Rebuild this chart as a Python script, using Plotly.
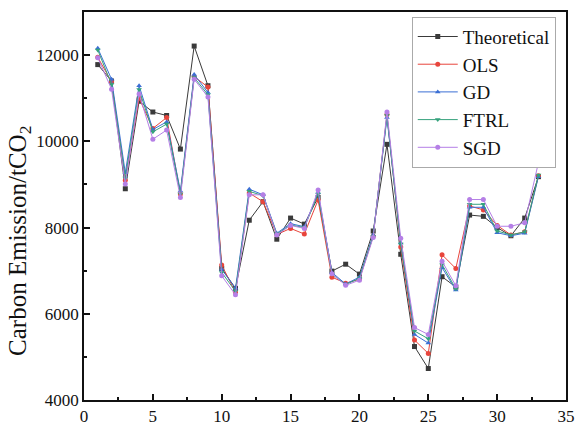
import plotly.graph_objects as go

x = list(range(1, 34))
theoretical = [11780, 11400, 8900, 10930, 10680, 10600, 9820, 12210, 11290, 7050, 6590,
               8170, 8600, 7730, 8220, 8080, 8700, 6990, 7150, 6920, 7920, 9930, 7380,
               5240, 4730, 6860, 6620, 8290, 8260, 8000, 7810, 8220, 9180]
ols = [11950, 11380, 9100, 11000, 10300, 10550, 8780, 11500, 11260, 7130, 6500,
       8800, 8600, 7840, 7980, 7850, 8640, 6850, 6710, 6800, 7800, 10620, 7550,
       5390, 5080, 7370, 7050, 8500, 8410, 8050, 7830, 7900, 9200]
gd = [12160, 11440, 9270, 11290, 10275, 10450, 8850, 11550, 11130, 7030, 6590,
      8890, 8760, 7870, 8090, 8020, 8810, 6960, 6690, 6850, 7830, 10550, 7640,
      5520, 5320, 7070, 6550, 8470, 8470, 7880, 7810, 7870, 9180]
ftrl = [12120, 11320, 9150, 11200, 10220, 10400, 8780, 11480, 11080, 6960, 6520,
        8840, 8740, 7850, 8060, 8000, 8780, 6920, 6680, 6820, 7800, 10600, 7620,
        5600, 5420, 7140, 6580, 8540, 8540, 7920, 7830, 7900, 9220]
sgd = [11940, 11210, 9010, 11100, 10050, 10260, 8700, 11440, 11030, 6880, 6440,
       8760, 8760, 7830, 8050, 7980, 8870, 6930, 6660, 6780, 7770, 10680, 7750,
       5680, 5520, 7220, 6650, 8650, 8650, 8030, 8030, 8110, 9510]

series = [
    ("Theoretical", theoretical, "#3a3a3a", "square"),
    ("OLS", ols, "#e8453c", "circle"),
    ("GD", gd, "#3b6fd4", "triangle-up"),
    ("FTRL", ftrl, "#35a27c", "triangle-down"),
    ("SGD", sgd, "#b57fe6", "circle"),
]

fig = go.Figure()
for name, ys, color, sym in series:
    fig.add_trace(go.Scatter(
        x=x, y=ys, name=name, mode="lines+markers",
        line=dict(color=color, width=1),
        marker=dict(color=color, symbol=sym, size=5),
    ))

font = "Liberation Serif, Times New Roman, serif"
fig.update_layout(
    width=585, height=436,
    margin=dict(l=84, r=10, t=12, b=28),
    paper_bgcolor="white", plot_bgcolor="white",
    font=dict(family=font, size=17, color="#111"),
    showlegend=True,
    legend=dict(
        x=0.68, y=0.988, xanchor="left", yanchor="top",
        bordercolor="#aaa", borderwidth=1, bgcolor="white",
        font=dict(family=font, size=19, color="#111"),
        tracegroupgap=0, itemwidth=40,
    ),
    xaxis=dict(
        range=[0, 35], dtick=5, tick0=0,
        showline=True, linecolor="#111", linewidth=1.5, mirror=True,
        ticks="inside", ticklen=6, tickcolor="#111", tickwidth=1.5,
        minor=dict(dtick=2.5, ticks="inside", ticklen=3, tickcolor="#111"),
        showgrid=False, zeroline=False,
        tickfont=dict(family=font, size=17),
    ),
    yaxis=dict(
        range=[4000, 13000], dtick=2000, tick0=4000,
        showline=True, linecolor="#111", linewidth=1.5, mirror=True,
        ticks="inside", ticklen=6, tickcolor="#111", tickwidth=1.5,
        minor=dict(dtick=1000, ticks="inside", ticklen=3, tickcolor="#111"),
        showgrid=False, zeroline=False,
        tickformat="d",
        tickfont=dict(family=font, size=17),
    ),
    annotations=[dict(
        text="Carbon Emission/tCO<sub>2</sub>",
        xref="paper", yref="paper", x=0, y=0.41,
        xanchor="center", yanchor="middle", xshift=-64,
        textangle=-90, showarrow=False,
        font=dict(family=font, size=25, color="#111"),
    )],
)

fig.write_html("out.html")
